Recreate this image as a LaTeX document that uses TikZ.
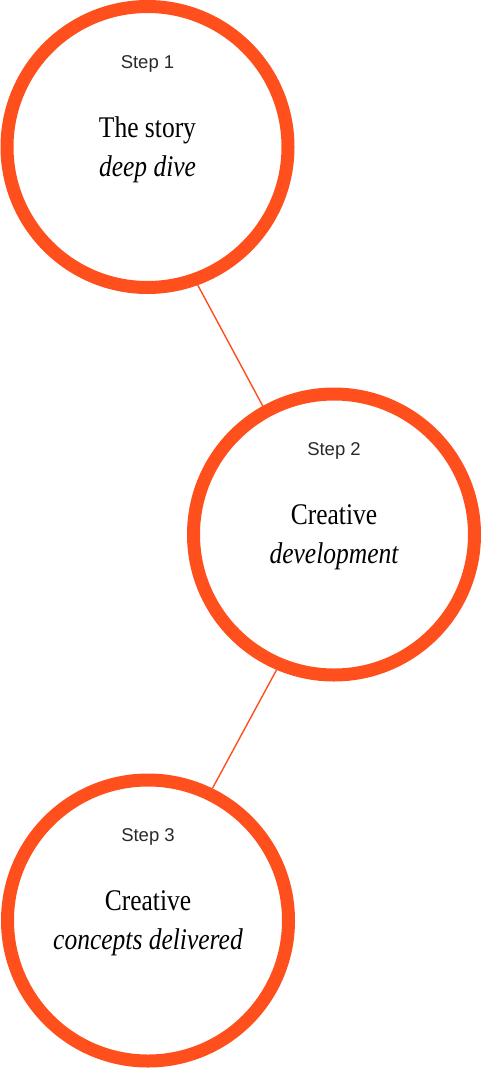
\documentclass[tikz,border=0pt]{standalone}
\usepackage{fontspec}
\newfontfamily\stepfont{Liberation Sans}
\newfontfamily\titlefont[FakeStretch=0.85]{Liberation Serif}
\definecolor{accent}{HTML}{FF4F1C}
\definecolor{steptext}{HTML}{2A2A2A}
\begin{document}
\begin{tikzpicture}[x=1pt,y=-1pt,
  stepcircle/.style={circle, draw=accent, line width=13pt, minimum size=281pt, inner sep=0pt, fill=white},
  steplabel/.style={anchor=base, inner sep=0pt, font=\stepfont\fontsize{18.5}{22}\selectfont, text=steptext},
  titleline/.style={anchor=base, inner sep=0pt, font=\titlefont\fontsize{30}{36}\selectfont, text=black},
  link/.style={draw=accent, line width=1.4pt}]
\useasboundingbox (0,0) rectangle (482,1068);

\node[stepcircle] (c1) at (147.5,147) {};
\node[stepcircle] (c2) at (334,534.5) {};
\node[stepcircle] (c3) at (148,920.5) {};

\draw[link] (c1.-70.5) -- (c2.119.5);
\draw[link] (c2.-113.5) -- (c3.64.2);

\node[steplabel] (s1) at (147.5,68) {Step 1};
\node[titleline] (t1a) at (147.5,137) {The story};
\node[titleline] (t1b) at (147.5,176) {\itshape deep dive};

\node[steplabel] (s2) at (334,455) {Step 2};
\node[titleline] (t2a) at (334,524) {Creative};
\node[titleline] (t2b) at (334,563) {\itshape development};

\node[steplabel] (s3) at (148,841.5) {Step 3};
\node[titleline] (t3a) at (148,910.5) {Creative};
\node[titleline] (t3b) at (148,949.5) {\itshape concepts delivered};
\end{tikzpicture}
\end{document}
